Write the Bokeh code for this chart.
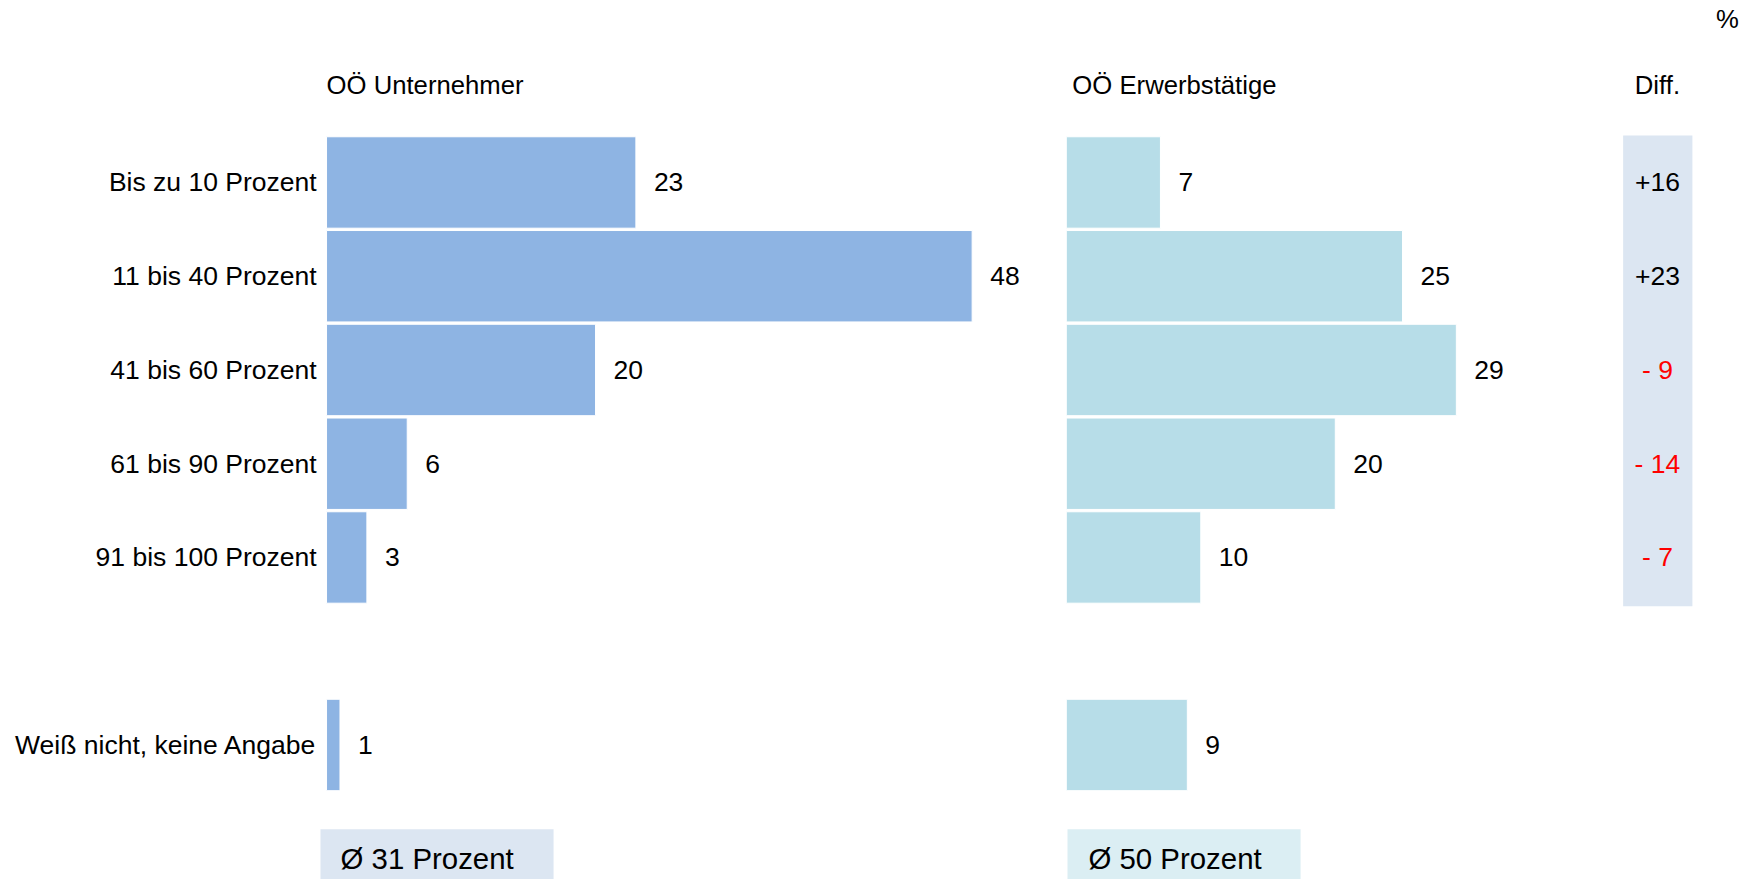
from bokeh.plotting import figure
from bokeh.models import Range1d, ColumnDataSource
from bokeh.embed import file_html
from bokeh.resources import INLINE
from bokeh.core.properties import value

# ---------------- data ----------------
categories = ["Bis zu 10 Prozent", "11 bis 40 Prozent", "41 bis 60 Prozent",
              "61 bis 90 Prozent", "91 bis 100 Prozent", "Weiß nicht, keine Angabe"]
unternehmer = [23, 48, 20, 6, 3, 1]
erwerbstaetige = [7, 25, 29, 20, 10, 9]
row_index = [0, 1, 2, 3, 4, 6]          # row 5 is an empty spacer row
n_diff_rows = 5
averages = [31, 50]
group_titles = ["OÖ Unternehmer", "OÖ Erwerbstätige"]
avg_labels = ["Ø 31 Prozent", "Ø 50 Prozent"]
diff_title = "Diff."
unit_label = "%"

# ---------------- layout constants ----------------
FONT = value("Liberation Sans")
C_LEFT = "#8EB4E3"
C_RIGHT = "#B7DDE8"
C_DIFF_BG = "#DCE6F2"
C_AVG_LEFT = "#DCE6F2"
C_AVG_RIGHT = "#DBEEF3"
OFFSET = 55.0           # x offset of right panel (in percent units)
DIFF_X = 98.95
BAR_H = 0.975

W, H = 1750, 879

p = figure(width=W, height=H, output_backend="svg", toolbar_location=None,
           x_range=Range1d(-24.24, 105.87), y_range=Range1d(-7.435, 1.941),
           x_axis_location=None, y_axis_location=None, min_border=0,
           outline_line_color=None, background_fill_color="white",
           border_fill_color="white")
p.xgrid.visible = False
p.ygrid.visible = False

ys = [-r for r in row_index]

src = ColumnDataSource(dict(
    y=ys, cat=categories,
    u=unternehmer, e=erwerbstaetige,
    e_left=[OFFSET] * len(ys),
    e_right=[OFFSET + v for v in erwerbstaetige],
    u_lab=[str(v) for v in unternehmer],
    e_lab=[str(v) for v in erwerbstaetige],
))

# bars
p.hbar(y="y", left=0, right="u", height=BAR_H, source=src,
       fill_color=C_LEFT, line_color="white", line_width=1)
p.hbar(y="y", left="e_left", right="e_right", height=BAR_H, source=src,
       fill_color=C_RIGHT, line_color="white", line_width=1)

# category labels
p.text(x=-0.74, y="y", text="cat", source=src, text_font=FONT,
       text_font_size="26.5px", text_align="right", text_baseline="middle",
       text_color="black")

# value labels
p.text(x="u", y="y", text="u_lab", source=src, x_offset=18, text_font=FONT,
       text_font_size="26.5px", text_align="left", text_baseline="middle",
       text_color="black")
p.text(x="e_right", y="y", text="e_lab", source=src, x_offset=18, text_font=FONT,
       text_font_size="26.5px", text_align="left", text_baseline="middle",
       text_color="black")

# diff column
diffs = [unternehmer[i] - erwerbstaetige[i] for i in range(n_diff_rows)]
diff_txt = [("+%d" % d) if d > 0 else ("- %d" % abs(d)) for d in diffs]
diff_col = ["black" if d > 0 else "#FF0000" for d in diffs]
p.quad(left=DIFF_X - 2.55, right=DIFF_X + 2.6, top=0.5, bottom=-(n_diff_rows - 1) - 0.52,
       fill_color=C_DIFF_BG, line_color=None)
dsrc = ColumnDataSource(dict(y=ys[:n_diff_rows], t=diff_txt, c=diff_col))
p.text(x=DIFF_X, y="y", text="t", text_color="c", source=dsrc, text_font=FONT,
       text_font_size="26.5px", text_align="center", text_baseline="middle")

# headers
p.text(x=[0, OFFSET + 0.45], y=[1.035, 1.035], text=group_titles, text_font=FONT,
       text_font_size="25.7px", text_align="left", text_baseline="middle",
       text_color="black")
p.text(x=[DIFF_X], y=[1.035], text=[diff_title], text_font=FONT,
       text_font_size="25.7px", text_align="center", text_baseline="middle",
       text_color="black")
p.text(x=[104.15], y=[1.739], text=[unit_label], text_font=FONT,
       text_font_size="25.7px", text_align="center", text_baseline="middle",
       text_color="black")

# average boxes
p.quad(left=[-0.45, OFFSET + 0.09], right=[16.88, OFFSET + 17.42],
       top=[-6.90, -6.90], bottom=[-7.6, -7.6],
       fill_color=[C_AVG_LEFT, C_AVG_RIGHT], line_color=None)
p.text(x=[1.04, OFFSET + 1.65], y=[-7.21, -7.21], text=avg_labels, text_font=FONT,
       text_font_size="29.4px", text_align="left", text_baseline="middle",
       text_color="black")

open("out.html", "w").write(file_html(p, INLINE))
